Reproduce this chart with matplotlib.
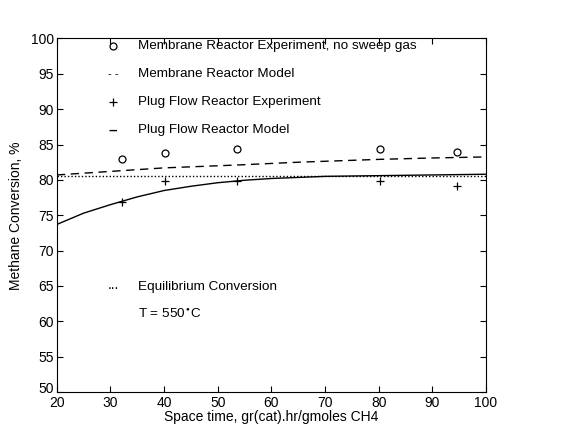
import numpy as np
import matplotlib.pyplot as plt
import matplotlib.transforms as mtransforms

plt.rcParams['font.family'] = ['Liberation Sans', 'DejaVu Sans']

# experiment points
mr_x = [32.1, 40.2, 53.6, 80.3, 94.5]
mr_y = [83.0, 83.8, 84.4, 84.4, 84.0]
pf_x = [32.1, 40.2, 53.6, 80.3, 94.5]
pf_y = [76.85, 79.8, 79.9, 79.9, 79.1]

# model curves
mrm_x = [20, 30, 40, 53.5, 65, 80, 90, 100]
mrm_y = [80.7, 81.2, 81.7, 82.1, 82.5, 82.9, 83.1, 83.25]
pfm_x = [20, 25, 30, 35, 40, 45, 50, 55, 60, 70, 80, 90, 100]
pfm_y = [73.7, 75.3, 76.5, 77.6, 78.5, 79.1, 79.6, 79.95, 80.2, 80.5, 80.6, 80.7, 80.8]
eq_y = 80.6

fig = plt.figure(figsize=(5.8, 4.42), dpi=100)
ax = fig.add_axes([0.098, 0.113, 0.740, 0.800])

ax.plot(mr_x, mr_y, 'o', mfc='none', mec='k', ms=5, mew=0.9)
ax.plot(pf_x, pf_y, '+', color='k', ms=6, mew=0.9)
ax.plot(mrm_x, mrm_y, '--', color='k', lw=1, dashes=(6, 4))
ax.plot(pfm_x, pfm_y, '-', color='k', lw=1)
ax.axhline(eq_y, color='k', lw=1, ls=(0, (1, 1.5)))

# in-plot legend, written as plain text like the original
ax.plot([30.5], [99.0], 'o', mfc='none', mec='k', ms=5, mew=0.9)
ax.text(30.5, 95.0, '- -', ha='center', va='center', fontsize=8)
ax.plot([30.5], [91.0], '+', color='k', ms=6, mew=0.9)
ax.text(30.5, 87.0, '\u2013', ha='center', va='center', fontsize=11, fontweight='bold')
ax.text(30.5, 65.2, '...', ha='center', va='center', fontsize=10)

labels = ['Membrane Reactor Experiment, no sweep gas', 'Membrane Reactor Model',
          'Plug Flow Reactor Experiment', 'Plug Flow Reactor Model']
for lab, yy in zip(labels, [99.0, 95.0, 91.0, 87.0]):
    ax.text(35.1, yy, lab, va='center', fontsize=9.7)
ax.text(35.1, 64.9, 'Equilibrium Conversion', va='center', fontsize=9.7)
ax.text(35.1, 61.0, r'T = 550$^{\bullet}$C', va='center', fontsize=9.7)

ax.set_xlim(20, 100)
ax.set_ylim(50, 100)
ax.set_xticks(np.arange(20, 101, 10))
ax.set_yticks(np.arange(50, 101, 5))
ax.tick_params(direction='in', top=True, right=True, length=4, labelsize=10, pad=2)
ax.tick_params(axis='x', pad=3)
ax.set_xlabel('Space time, gr(cat).hr/gmoles CH4', fontsize=10, labelpad=0)
ax.set_ylabel('Methane Conversion, %', fontsize=10, labelpad=6)

# nudge the bottom "50" up a little so it clears the "20"
lab50 = ax.get_yticklabels()[0]
lab50.set_transform(lab50.get_transform() +
                    mtransforms.ScaledTranslation(0, 3 / 72, fig.dpi_scale_trans))

fig.savefig('out.png', dpi=100)
